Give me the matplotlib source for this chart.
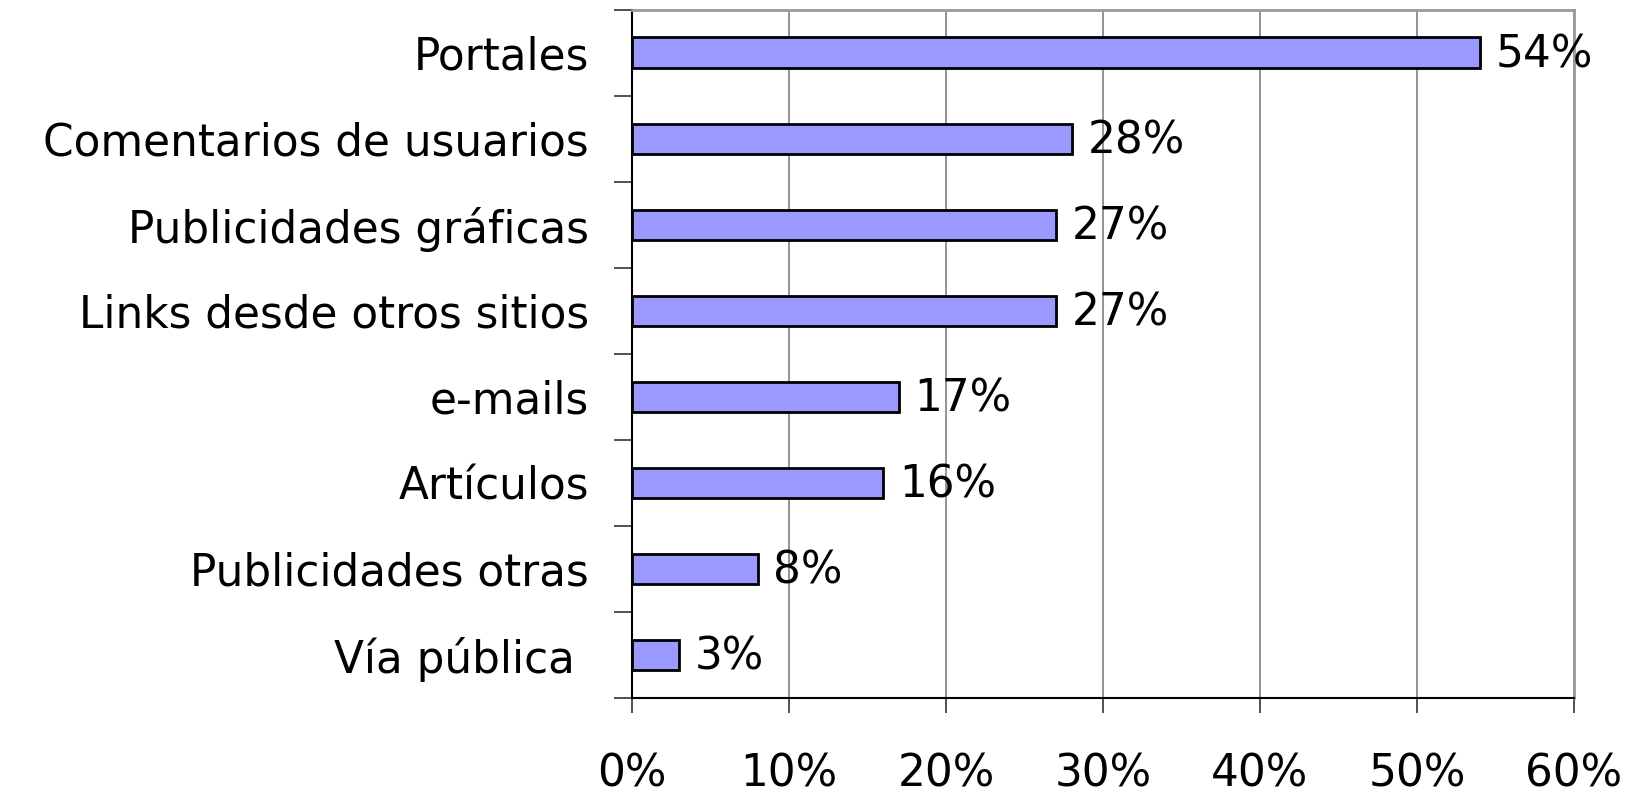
import matplotlib
matplotlib.use("Agg")
import matplotlib.pyplot as plt
from matplotlib.ticker import MultipleLocator, PercentFormatter, FixedLocator

categories = ["Portales", "Comentarios de usuarios", "Publicidades gráficas",
              "Links desde otros sitios", "e-mails", "Artículos",
              "Publicidades otras", "Vía pública "]
values = [54, 28, 27, 27, 17, 16, 8, 3]

plt.rcParams["font.family"] = ["DejaVu Sans"]
FS = 31.5

fig = plt.figure(figsize=(16.31, 7.92), dpi=100)
ax = fig.add_axes([0.3875, 0.1187, 0.5775, 0.8687])

n = len(categories)
ypos = list(range(n - 1, -1, -1))
ax.barh(ypos, values, height=0.36, color="#9999FF", edgecolor="black",
        linewidth=2, zorder=3)
for y, v in zip(ypos, values):
    ax.text(v + 1.0, y - 0.02, f"{v}%", va="center", ha="left", fontsize=FS,
            zorder=4)

ax.set_xlim(0, 60)
ax.set_ylim(-0.5, n - 0.5)
ax.xaxis.set_major_locator(MultipleLocator(10))
ax.xaxis.set_major_formatter(PercentFormatter(decimals=0))
ax.grid(axis="x", color="#808080", linewidth=1.2, zorder=0)

# category labels at centres, tick marks at boundaries
ax.set_yticks(ypos)
ax.set_yticklabels(categories, fontsize=FS)
ax.tick_params(axis="y", which="major", length=0, pad=31)
ax.yaxis.set_minor_locator(FixedLocator([i - 0.5 for i in range(n + 1)]))
ax.tick_params(axis="y", which="minor", length=13, width=1.2, color="#333333")
ax.tick_params(axis="x", length=11, width=1.2, color="#333333",
               labelsize=FS, pad=28)

for side in ("top", "right"):
    ax.spines[side].set_color("#999999")
    ax.spines[side].set_linewidth(2)
for side in ("left", "bottom"):
    ax.spines[side].set_color("black")
    ax.spines[side].set_linewidth(1.5)

fig.savefig("out.png", dpi=100)
